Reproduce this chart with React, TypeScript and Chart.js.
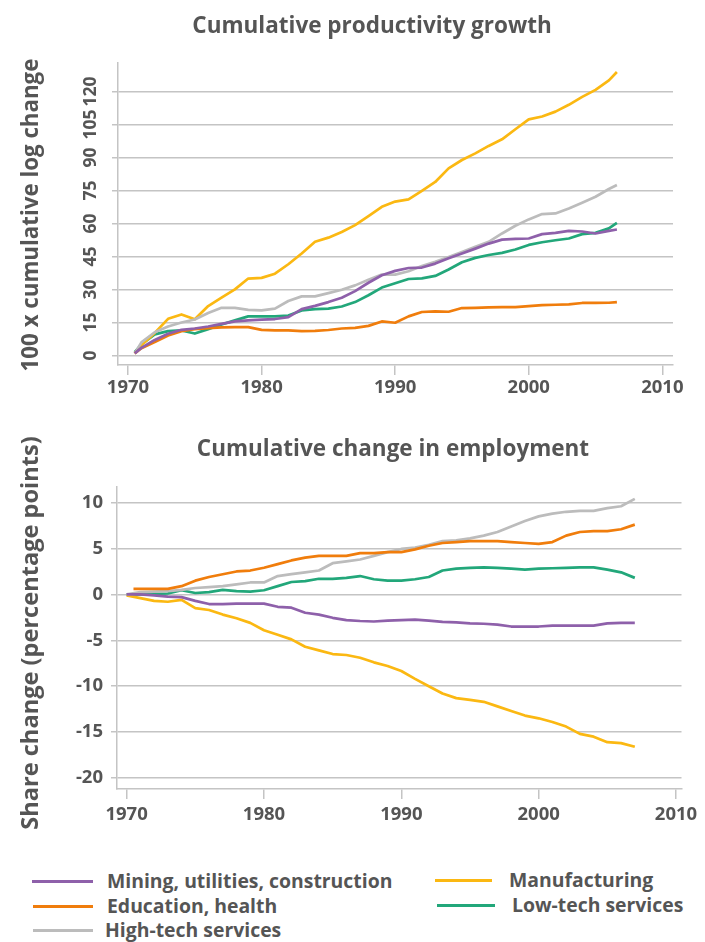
import React, { useEffect, useRef } from "react";
import { Chart, registerables } from "chart.js";

Chart.register(...registerables);

// ---------- data ----------
const prodYears = [1970.5, 1971, 1972, 1973, 1974, 1975, 1976, 1977, 1978, 1979, 1980, 1981, 1982, 1983, 1984, 1985, 1986, 1987, 1988, 1989, 1990, 1991, 1992, 1993, 1994, 1995, 1996, 1997, 1998, 1999, 2000, 2001, 2002, 2003, 2004, 2005, 2006, 2006.6];
const prodMining = [1, 3.5, 7.1, 9.9, 11.7, 12.3, 13.2, 14.4, 15.5, 16, 16.3, 16.6, 17.5, 21.1, 22.6, 24.3, 26.3, 29.3, 33.1, 36.5, 38.5, 39.8, 40, 41.8, 44.2, 46.4, 48.6, 50.9, 52.7, 53, 53.2, 55.2, 55.8, 56.7, 56.4, 55.5, 56.7, 57.3];
const prodEducation = [1, 3.3, 6.1, 9.1, 11.1, 12, 12.5, 12.8, 12.9, 12.9, 11.7, 11.4, 11.4, 11.1, 11.2, 11.6, 12.3, 12.6, 13.5, 15.5, 14.9, 17.8, 19.8, 20.1, 19.9, 21.6, 21.7, 21.9, 22, 22, 22.5, 22.9, 23.1, 23.3, 23.9, 23.9, 24, 24.3];
const prodHighTech = [1, 6, 10.6, 13.2, 15, 16.4, 19.3, 21.7, 21.7, 20.8, 20.5, 21.3, 24.8, 26.9, 26.9, 28.4, 29.9, 31.9, 34.5, 36.8, 36.8, 38.3, 40.7, 42.6, 44.8, 47.1, 49.4, 51.7, 55.5, 59, 61.9, 64.3, 64.6, 66.9, 69.5, 72.2, 75.7, 77.5];
const prodManufacturing = [1, 4.7, 10.3, 16.7, 18.7, 16.5, 22.5, 26.3, 30.1, 35, 35.3, 37.2, 41.5, 46.4, 51.7, 53.6, 56.2, 59.3, 63.4, 67.6, 70, 71, 74.9, 78.9, 85.1, 88.9, 91.9, 95.3, 98.3, 102.9, 107.4, 108.7, 110.9, 114, 117.6, 120.8, 125.1, 128.9];
const prodLowTech = [1.5, 5, 9.6, 11.1, 11.4, 10, 12, 14.1, 16, 17.8, 17.8, 17.8, 18.2, 20.5, 21.1, 21.3, 22.3, 24.3, 27.4, 30.9, 32.9, 34.8, 35.1, 36.2, 39.1, 42.4, 44.4, 45.7, 46.7, 48.2, 50.3, 51.5, 52.4, 53.2, 55.2, 55.8, 57.8, 60.3];

const empYears = [1970, 1971, 1972, 1973, 1974, 1975, 1976, 1977, 1978, 1979, 1980, 1981, 1982, 1983, 1984, 1985, 1986, 1987, 1988, 1989, 1990, 1991, 1992, 1993, 1994, 1995, 1996, 1997, 1998, 1999, 2000, 2001, 2002, 2003, 2004, 2005, 2006, 2007];
const empEducationYears = [1970.5, 1971, 1972, 1973, 1974, 1975, 1976, 1977, 1978, 1979, 1980, 1981, 1982, 1983, 1984, 1985, 1986, 1987, 1988, 1989, 1990, 1991, 1992, 1993, 1994, 1995, 1996, 1997, 1998, 1999, 2000, 2001, 2002, 2003, 2004, 2005, 2006, 2007];
const empMining = [0, 0, -0.1, -0.25, -0.3, -0.7, -1.05, -1.05, -1.0, -1.0, -1.0, -1.35, -1.45, -2.0, -2.2, -2.55, -2.8, -2.9, -2.95, -2.85, -2.8, -2.75, -2.85, -3.0, -3.05, -3.15, -3.2, -3.3, -3.5, -3.5, -3.5, -3.4, -3.4, -3.4, -3.4, -3.15, -3.1, -3.1];
const empEducation = [0.6, 0.6, 0.6, 0.6, 0.9, 1.5, 1.9, 2.2, 2.5, 2.6, 2.9, 3.3, 3.7, 4.0, 4.2, 4.2, 4.2, 4.5, 4.5, 4.6, 4.6, 4.9, 5.3, 5.6, 5.7, 5.8, 5.8, 5.8, 5.7, 5.6, 5.5, 5.7, 6.4, 6.8, 6.9, 6.9, 7.1, 7.6];
const empHighTech = [0, 0.25, 0.3, 0.35, 0.5, 0.7, 0.8, 0.9, 1.1, 1.3, 1.3, 2.0, 2.2, 2.4, 2.6, 3.4, 3.6, 3.8, 4.2, 4.6, 4.95, 5.1, 5.4, 5.8, 5.9, 6.1, 6.4, 6.8, 7.4, 8.0, 8.5, 8.8, 9.0, 9.1, 9.1, 9.4, 9.6, 10.4];
const empManufacturing = [-0.1, -0.4, -0.7, -0.8, -0.6, -1.5, -1.7, -2.2, -2.6, -3.1, -3.9, -4.4, -4.9, -5.7, -6.1, -6.5, -6.6, -6.9, -7.4, -7.8, -8.35, -9.2, -10.0, -10.8, -11.3, -11.5, -11.7, -12.2, -12.7, -13.2, -13.5, -13.9, -14.4, -15.2, -15.5, -16.1, -16.2, -16.6];
const empLowTech = [0, 0, 0.05, 0.1, 0.45, 0.15, 0.25, 0.5, 0.35, 0.3, 0.45, 0.9, 1.35, 1.45, 1.7, 1.7, 1.8, 2.0, 1.65, 1.5, 1.5, 1.65, 1.9, 2.6, 2.8, 2.9, 2.95, 2.9, 2.8, 2.7, 2.8, 2.85, 2.9, 2.95, 2.95, 2.7, 2.4, 1.8];

const yearTicks = [1970, 1980, 1990, 2000, 2010];
const prodTicks = [0, 15, 30, 45, 60, 75, 90, 105, 120];
const empTicks = [-20, -15, -10, -5, 0, 5, 10];

const seriesNames = ["Mining, utilities, construction", "Education, health", "High-tech services", "Manufacturing", "Low-tech services"];

// ---------- style ----------
const FONT = '"Open Sans", "Noto Sans", sans-serif';
const TEXT = "#555555";
const GRID = "#c4c4c4";
const PURPLE = "#8e60aa";
const ORANGE = "#f07d0c";
const GRAY = "#bcbcbc";
const YELLOW = "#fbb812";
const GREEN = "#22a77a";
const colors = [PURPLE, ORANGE, GRAY, YELLOW, GREEN];

function pts(xs: number[], ys: number[]) {
  return xs.map((x, i) => ({ x, y: ys[i] }));
}

function makeConfig(opts: any) {
  const { datasets, xMin, xMax, yMin, yMax, yTicks, pad, xHeight, yWidth, rotateY, xPad, yPad } = opts;
  return {
    type: "line",
    data: {
      datasets: datasets.map((d: any) => ({
        label: d.label,
        data: d.data,
        borderColor: d.color,
        backgroundColor: d.color,
        borderWidth: 2.7,
        pointRadius: 0,
        tension: 0,
        fill: false,
        borderJoinStyle: "round",
        order: d.order,
      })),
    },
    options: {
      responsive: false,
      animation: false,
      layout: { padding: pad },
      plugins: { legend: { display: false }, tooltip: { enabled: false }, title: { display: false } },
      scales: {
        x: {
          type: "linear",
          min: xMin,
          max: xMax,
          afterBuildTicks: (s: any) => {
            s.ticks = yearTicks.map((v) => ({ value: v }));
          },
          afterFit: (s: any) => {
            s.height = xHeight;
          },
          grid: { drawOnChartArea: false, drawTicks: true, tickLength: 10, color: GRID, lineWidth: 1.5 },
          border: { display: true, color: GRID, width: 1.5 },
          ticks: {
            callback: (v: any) => String(v),
            font: { family: FONT, size: 18.5, weight: "bold" },
            color: TEXT,
            padding: xPad,
            maxRotation: 0,
            minRotation: 0,
            autoSkip: false,
          },
        },
        y: {
          type: "linear",
          min: yMin,
          max: yMax,
          afterBuildTicks: (s: any) => {
            s.ticks = yTicks.map((v: number) => ({ value: v }));
          },
          afterFit: (s: any) => {
            s.width = yWidth;
          },
          grid: { drawOnChartArea: true, drawTicks: true, tickLength: 6, color: GRID, lineWidth: 1.5 },
          border: { display: true, color: GRID, width: 1.5 },
          ticks: {
            callback: (v: any) => String(v),
            font: { family: FONT, size: rotateY ? 17.5 : 18.5, weight: "bold" },
            color: TEXT,
            padding: yPad,
            autoSkip: false,
            minRotation: rotateY ? 90 : 0,
            maxRotation: rotateY ? 90 : 0,
            crossAlign: rotateY ? "center" : "near",
          },
        },
      },
    },
  };
}

const textBase: React.CSSProperties = {
  position: "absolute",
  fontFamily: FONT,
  color: TEXT,
  whiteSpace: "nowrap",
  lineHeight: 1,
  fontWeight: 700,
};

export default function App() {
  const topRef = useRef<HTMLCanvasElement>(null);
  const botRef = useRef<HTMLCanvasElement>(null);

  useEffect(() => {
    document.body.style.margin = "0";
    const prodSeries = [prodMining, prodEducation, prodHighTech, prodManufacturing, prodLowTech];
    const empSeries = [empMining, empEducation, empHighTech, empManufacturing, empLowTech];
    const c1 = new Chart(
      topRef.current as HTMLCanvasElement,
      makeConfig({
        datasets: prodSeries.map((s, i) => ({ label: seriesNames[i], data: pts(prodYears, s), color: colors[i], order: i })),
        xMin: 1969.25,
        xMax: 2010.8,
        yMin: -4.3,
        yMax: 133,
        yTicks: prodTicks,
        pad: { top: 63, right: 32, bottom: 0, left: 0 },
        xHeight: 35,
        yWidth: 118,
        rotateY: true,
        xPad: 2,
        yPad: 6,
      }) as any
    );
    const c2 = new Chart(
      botRef.current as HTMLCanvasElement,
      makeConfig({
        datasets: empSeries.map((s, i) => ({
          label: seriesNames[i],
          data: pts(i === 1 ? empEducationYears : empYears, s),
          color: colors[i],
          order: i,
        })),
        xMin: 1969.3,
        xMax: 2010.4,
        yMin: -21.2,
        yMax: 11.7,
        yTicks: empTicks,
        pad: { top: 67, right: 23.5, bottom: 0, left: 0 },
        xHeight: 51,
        yWidth: 117,
        rotateY: false,
        xPad: 5,
        yPad: 8,
      }) as any
    );
    return () => {
      c1.destroy();
      c2.destroy();
    };
  }, []);

  const legendItems = [
    { name: seriesNames[0], color: PURPLE, lx: 32, lw: 61, tx: 107, y: 881 },
    { name: seriesNames[1], color: ORANGE, lx: 33, lw: 60, tx: 107, y: 906 },
    { name: seriesNames[2], color: GRAY, lx: 33, lw: 60, tx: 105, y: 930 },
    { name: seriesNames[3], color: YELLOW, lx: 435, lw: 57, tx: 509, y: 880 },
    { name: seriesNames[4], color: GREEN, lx: 437, lw: 58, tx: 512, y: 905 },
  ];

  return (
    <div style={{ position: "absolute", left: 0, top: 0, width: 705, height: 942, background: "#fff", overflow: "hidden" }}>
      <canvas ref={topRef} width={705} height={400} style={{ position: "absolute", left: 0, top: 0, width: 705, height: 400 }} />
      <canvas ref={botRef} width={705} height={420} style={{ position: "absolute", left: 0, top: 420, width: 705, height: 420 }} />

      <div style={{ ...textBase, left: 172, top: 25, width: 400, textAlign: "center", fontSize: 22.5, transform: "translateY(-50%)" }}>
        Cumulative productivity growth
      </div>
      <div style={{ ...textBase, left: 193, top: 448, width: 400, textAlign: "center", fontSize: 22.5, transform: "translateY(-50%)" }}>
        Cumulative change in employment
      </div>
      <div style={{ ...textBase, left: 30, top: 215, fontSize: 22.3, transform: "translate(-50%, -50%) rotate(-90deg)" }}>
        100 x cumulative log change
      </div>
      <div style={{ ...textBase, left: 30, top: 633, fontSize: 23.6, transform: "translate(-50%, -50%) rotate(-90deg)" }}>
        Share change (percentage points)
      </div>

      {legendItems.map((it) => (
        <React.Fragment key={it.name}>
          <div style={{ position: "absolute", left: it.lx, top: it.y - 1.5, width: it.lw, height: 3, background: it.color }} />
          <div style={{ ...textBase, left: it.tx, top: it.y, fontSize: 19.4, transform: "translateY(-50%)" }}>{it.name}</div>
        </React.Fragment>
      ))}
    </div>
  );
}
